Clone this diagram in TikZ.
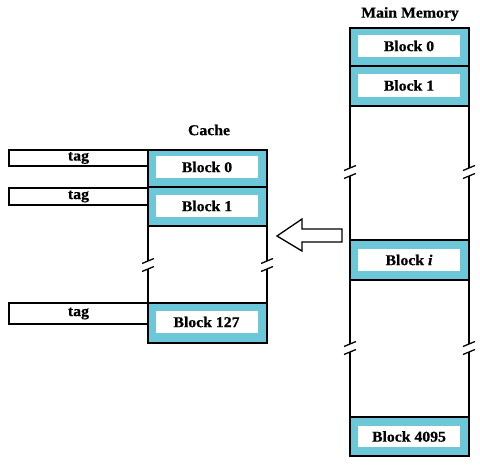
\documentclass[tikz,border=0pt]{standalone}
\usepackage{fontspec}
\setmainfont{Liberation Serif}[FakeStretch=1.05,FakeBold=0.6]
\definecolor{cyanfill}{RGB}{108,200,216}
\tikzset{
  x=1pt, y=-1pt,
  lw/.style={line width=1.3pt},
  txt/.style={font=\fontsize{15}{17}\selectfont\bfseries},
  outerblk/.style={lw, draw=black, fill=cyanfill, minimum width=119pt, inner sep=0pt, outer sep=0pt},
  innerblk/.style={fill=white, minimum width=102pt, inner sep=0pt, outer sep=0pt, txt},
  tagbox/.style={lw, draw=black, fill=white, minimum width=139pt, inner sep=0pt, outer sep=0pt, txt},
  title/.style={txt, inner sep=0pt},
  tick/.style={lw},
}
\begin{document}
\begin{tikzpicture}
\useasboundingbox (0,0) rectangle (480,468);

% titles
\node[title] (cachetitle) at (209,130) {Cache};
\node[title] (mmtitle) at (410,14) {Main Memory};

% tag boxes
\node[tagbox, minimum height=16pt] (tag0) at (78.5,158) {tag};
\node[tagbox, minimum height=17pt] (tag1) at (78.5,196.5) {tag};
\node[tagbox, minimum height=21pt] (tag2) at (78.5,313.5) {tag};

% cache blocks
\node[outerblk, minimum height=37pt] (cb0) at (207.5,168.5) {};
\node[innerblk, minimum height=22pt] (cb0t) at (207,167) {Block 0};
\node[outerblk, minimum height=39pt] (cb1) at (207.5,206.5) {};
\node[innerblk, minimum height=22pt] (cb1t) at (207,206) {Block 1};
\node[outerblk, minimum height=40pt] (cb127) at (207.5,323) {};
\node[innerblk, minimum height=22pt] (cb127t) at (206.5,322) {Block 127};

% cache side lines with break marks (break centre y=265)
\coordinate (cl1) at (148,261); \coordinate (cl2) at (148,269);
\coordinate (cr1) at (267,261); \coordinate (cr2) at (267,269);
\draw[lw] (cb1.south west) -- (cl1);
\draw[lw] (cl2) -- (cb127.north west);
\draw[lw] (cb1.south east) -- (cr1);
\draw[lw] (cr2) -- (cb127.north east);
\foreach \xx in {148,267}{
  \draw[tick] (\xx-6,263.5) -- (\xx+6,258.5);
  \draw[tick] (\xx-6,271.5) -- (\xx+6,266.5);
}

% main memory blocks
\node[outerblk, minimum height=38pt] (mb0) at (409.5,47) {};
\node[innerblk, minimum height=22pt] (mb0t) at (409,46) {Block 0};
\node[outerblk, minimum height=40pt] (mb1) at (409.5,86) {};
\node[innerblk, minimum height=23pt] (mb1t) at (409,85.5) {Block 1};
\node[outerblk, minimum height=40pt] (mbi) at (409.5,260) {};
\node[innerblk, minimum height=22pt] (mbit) at (409,260) {Block \textit{i}};
\node[outerblk, minimum height=39pt] (mb4095) at (409.5,436.5) {};
\node[innerblk, minimum height=21pt] (mb4095t) at (409,436.5) {Block 4095};

% main memory side lines with break marks (y=172 and y=348)
\coordinate (ml1) at (350,168); \coordinate (ml2) at (350,176);
\coordinate (mr1) at (469,168); \coordinate (mr2) at (469,176);
\coordinate (ml3) at (350,344); \coordinate (ml4) at (350,352);
\coordinate (mr3) at (469,344); \coordinate (mr4) at (469,352);
\draw[lw] (mb1.south west) -- (ml1);
\draw[lw] (ml2) -- (mbi.north west);
\draw[lw] (mb1.south east) -- (mr1);
\draw[lw] (mr2) -- (mbi.north east);
\draw[lw] (mbi.south west) -- (ml3);
\draw[lw] (ml4) -- (mb4095.north west);
\draw[lw] (mbi.south east) -- (mr3);
\draw[lw] (mr4) -- (mb4095.north east);
\foreach \xx in {350,469}{
  \foreach \cc in {172,348}{
    \draw[tick] (\xx-6,\cc-1.5) -- (\xx+6,\cc-6.5);
    \draw[tick] (\xx-6,\cc+6.5) -- (\xx+6,\cc+1.5);
  }
}

% hollow block arrow
\draw[lw, fill=white, line join=miter] (277,236) -- (302,219) -- (302,229) -- (342,229)
  -- (342,242) -- (302,242) -- (302,251) -- cycle;
\end{tikzpicture}
\end{document}
